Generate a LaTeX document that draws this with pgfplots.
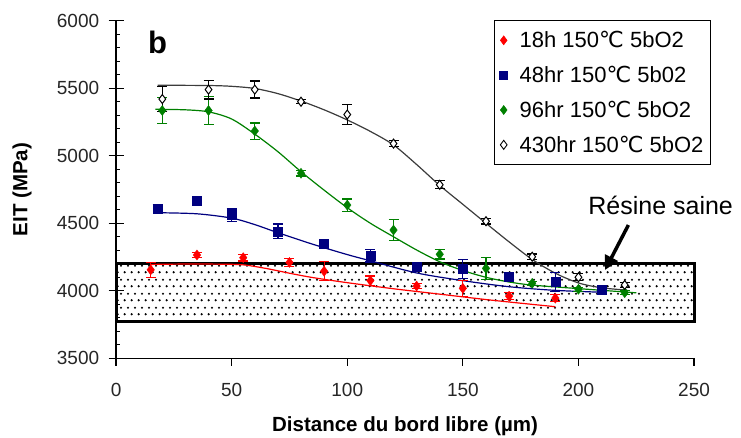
\documentclass[border=0pt]{standalone}
\usepackage{fontspec}
\setmainfont{Liberation Sans}
\newfontfamily\dejavu{DejaVu Sans}
\usepackage{pgfplots}
\pgfplotsset{compat=1.18}
\usetikzlibrary{patterns.meta, arrows.meta}

\tikzdeclarepattern{
  name=resdots,
  type=uncolored,
  bottom left={(0pt,0pt)},
  top right={(7.3pt,13.4pt)},
  tile size={(7.3pt,13.4pt)},
  code={
    \fill (1.8pt,1.8pt) circle (1.25pt);
    \fill (5.45pt,8.5pt) circle (1.25pt);
  }
}

\definecolor{cred}{RGB}{255,0,0}
\definecolor{cblue}{RGB}{0,0,128}
\definecolor{cgreen}{RGB}{0,128,0}
\definecolor{cgray}{RGB}{60,60,60}
\newcommand{\degC}{{\dejavu ℃}}

\begin{document}
\begin{tikzpicture}
\begin{axis}[
  width=578pt, height=337.6pt, scale only axis,
  xmin=0, xmax=250, ymin=3500, ymax=6000,
  axis lines=left, axis line style={-, line width=1.2pt},
  xtick={0,50,...,250}, ytick={3500,4000,...,6000},
  minor y tick num=4,
  xtick align=outside, ytick align=inside,
  major tick length=7.5pt, minor tick length=4pt,
  tick style={line width=1.2pt, black},
  extra y ticks={3500,4000,4500,5000,5500,6000},
  extra y tick labels={},
  extra y tick style={ytick align=outside},
  /pgf/number format/assume math mode=true,
  /pgf/number format/1000 sep={},
  tick label style={font=\fontsize{19}{22}\selectfont, color=black!85},
  yticklabel style={anchor=east, inner sep=0pt, xshift=-16.7pt},
  xticklabel style={anchor=north, inner sep=0pt, yshift=-17pt},
  xlabel={Distance du bord libre (µm)},
  ylabel={EIT (MPa)},
  label style={font=\bfseries\fontsize{20.5}{24}\selectfont},
  xlabel style={at={(axis description cs:0.5,-0.2183)}, anchor=base},
  ylabel style={at={(axis description cs:-0.1626,0.5)}, anchor=center},
  clip=false,
  legend style={at={(axis description cs:1.029,1.002)}, anchor=north east,
    draw=black, line width=0.8pt, font=\fontsize{22}{26}\selectfont,
    row sep=13pt, inner xsep=5pt, inner ysep=9pt},
  legend cell align=left,
  legend image code/.code={\draw[#1] plot coordinates {(0pt,0pt)};},
]

% Resine saine box
\addplot[draw=black, line width=3pt, pattern={resdots}, pattern color=black, forget plot]
  coordinates {(0,3775) (250,3775) (250,4200) (0,4200)} -- cycle;

% legend images
\addlegendimage{only marks, mark=diamond*, mark size=4.5pt, cred, line width=0.5pt}
\addlegendentry{\hspace*{10pt}18h 150\degC\ 5bO2}
\addlegendimage{only marks, mark=square*, mark size=4pt, cblue, line width=0.5pt}
\addlegendentry{\hspace*{10pt}48hr 150\degC\ 5b02}
\addlegendimage{only marks, mark=diamond*, mark size=4.5pt, cgreen, line width=0.5pt}
\addlegendentry{\hspace*{10pt}96hr 150\degC\ 5bO2}
\addlegendimage{only marks, mark=diamond, mark size=4.5pt, black, line width=0.9pt}
\addlegendentry{\hspace*{10pt}430hr 150\degC\ 5bO2}

% fitted curves
\addplot[cred, line width=1.2pt, smooth, forget plot] coordinates {
(15,4195) (30,4198) (45,4197) (55,4192) (65,4165) (75,4130) (85,4098) (100,4060)
(120,4015) (140,3975) (160,3935) (175,3908) (190,3882)};
\addplot[cblue, line width=1.2pt, smooth, forget plot] coordinates {
(18,4578) (35,4570) (50,4538) (60,4490) (70,4430) (85,4345) (100,4268) (110,4222)
(130,4132) (150,4075) (170,4030) (190,4003) (212,3988)};
\addplot[cgreen, line width=1.2pt, smooth, forget plot] coordinates {
(17,5344) (30,5340) (40,5325) (50,5272) (60,5160) (70,5030) (80,4882) (90,4745)
(100,4615) (110,4500) (120,4400) (130,4302) (140,4215) (150,4150) (160,4100)
(170,4065) (180,4042) (200,4016) (225,3985)};
\addplot[cgray, line width=1.2pt, smooth, forget plot] coordinates {
(18,5522) (40,5520) (50,5514) (60,5498) (70,5460) (80,5405) (90,5340) (100,5265)
(110,5180) (120,5080) (130,4935) (140,4780) (150,4640) (160,4500) (170,4362)
(180,4232) (190,4130) (200,4058) (210,4022) (221,4005)};

% data points with error bars
\addplot[only marks, mark=diamond*, mark size=5pt, cred, forget plot,
  error bars/.cd, y dir=both, y explicit,
  error bar style={line width=1.2pt, cred},
  error mark options={rotate=90, mark size=5pt, line width=1.2pt, cred}]
  coordinates {
(15,4155) +- (0,55)
(35,4265) +- (0,20)
(55,4245) +- (0,25)
(75,4210) +- (0,30)
(90,4145) +- (0,70)
(110,4075) +- (0,35)
(130,4035) +- (0,20)
(150,4018) +- (0,60)
(170,3960) +- (0,25)
(190,3945) +- (0,25)};

\addplot[only marks, mark=square*, mark size=4.5pt, cblue, forget plot,
  error bars/.cd, y dir=both, y explicit,
  error bar style={line width=1.2pt, cblue},
  error mark options={rotate=90, mark size=5pt, line width=1.2pt, cblue}]
  coordinates {
(18,4605) +- (0,30)
(35,4665) +- (0,15)
(50,4560) +- (0,45)
(70,4440) +- (0,55)
(90,4345) +- (0,15)
(110,4258) +- (0,45)
(130,4178) +- (0,15)
(150,4160) +- (0,70)
(170,4105) +- (0,20)
(190,4067) +- (0,70)
(210,4006) +- (0,15)};

\addplot[only marks, mark=diamond*, mark size=5pt, cgreen, forget plot,
  error bars/.cd, y dir=both, y explicit,
  error bar style={line width=1.2pt, cgreen},
  error mark options={rotate=90, mark size=5pt, line width=1.2pt, cgreen}]
  coordinates {
(20,5335) +- (0,95)
(40,5335) +- (0,105)
(60,5183) +- (0,60)
(80,4870) +- (0,20)
(100,4635) +- (0,45)
(120,4450) +- (0,80)
(140,4270) +- (0,35)
(160,4166) +- (0,80)
(180,4055) +- (0,15)
(200,4011) +- (0,15)
(220,3986) +- (0,15)};

\addplot[only marks, mark=diamond*, mark size=4.5pt, black, fill=white,
  mark options={fill=white, line width=1pt}, forget plot,
  error bars/.cd, y dir=both, y explicit,
  error bar style={line width=1.2pt, black},
  error mark options={rotate=90, mark size=5pt, line width=1.2pt, black}]
  coordinates {
(20,5420) +- (0,95)
(40,5490) +- (0,70)
(60,5490) +- (0,63)
(80,5400) +- (0,15)
(100,5305) +- (0,75)
(120,5090) +- (0,20)
(140,4785) +- (0,30)
(160,4515) +- (0,20)
(180,4252) +- (0,20)
(200,4100) +- (0,25)
(220,4043) +- (0,20)};

% annotations
\node[anchor=base west, inner sep=0pt, font=\bfseries\fontsize{31}{34}\selectfont]
  at (axis cs:13.8,5759) {b};
\node[anchor=base west, inner sep=0pt, font=\fontsize{25}{28}\selectfont]
  at (axis cs:204.2,4566) {Résine saine};
\draw[line width=3.5pt, -{Triangle[length=14pt, width=14pt]}]
  (axis cs:221.6,4487) -- (axis cs:211.5,4154);

\coordinate (BL) at (axis cs:-50.2,2917);
\coordinate (TR) at (axis cs:270.3,6153.3);
\end{axis}
\pgfresetboundingbox
\useasboundingbox (BL) rectangle (TR);
\end{tikzpicture}
\end{document}
